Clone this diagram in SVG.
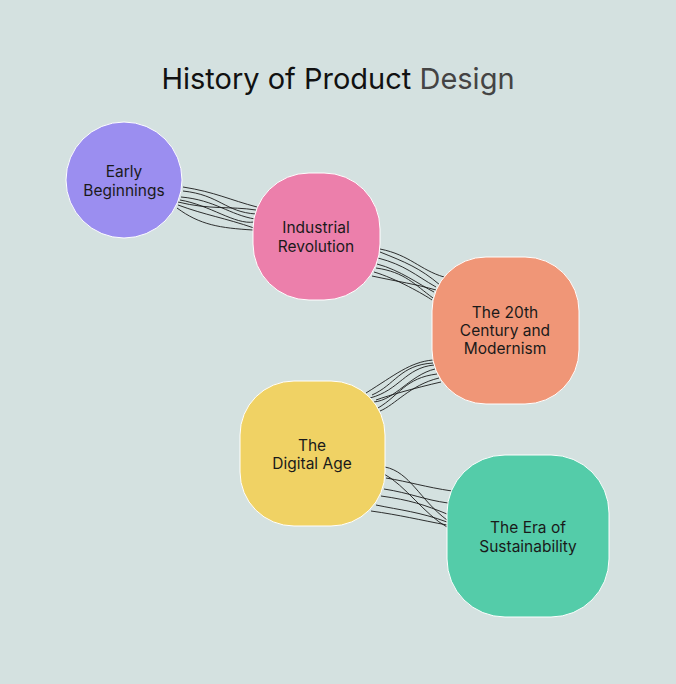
<svg xmlns="http://www.w3.org/2000/svg" width="676" height="684" viewBox="0 0 676 684">
<style>
.node{stroke:#ffffff;stroke-width:1}
.lbl{font-family:Inter,"Liberation Sans",sans-serif;font-size:15.5px;fill:#1a1a1a;text-anchor:middle}
.edge path{fill:none;stroke:#1a1a1a;stroke-width:0.9}
</style>
<rect width="676" height="684" fill="#d4e1e0"/>
<text x="338" y="89" font-family="Inter,'Liberation Sans',sans-serif" font-size="29" text-anchor="middle" fill="#111">History of Product <tspan fill="#444">Design</tspan></text>
<g id="connectors" class="edge">
<path d="M183,187 C215,192 230,200 257,207"/>
<path d="M183,191 C220,195 225,212 256,214"/>
<path d="M181,197 C215,200 230,215 255,219"/>
<path d="M180,200 C210,205 235,225 254,222"/>
<path d="M178,205 C205,215 225,218 254,228"/>
<path d="M177,208 C200,225 220,228 253,230"/>
<path d="M178,202 C210,210 230,206 256,210"/>
<path d="M380,249 C410,255 420,270 444,277"/>
<path d="M380,252 C405,262 420,268 440,285"/>
<path d="M378,258 C405,265 415,275 436,287"/>
<path d="M377,264 C400,270 420,285 434,292"/>
<path d="M376,268 C405,272 415,285 433,298"/>
<path d="M372,276 C400,282 415,284 436,290"/>
<path d="M374,272 C395,278 425,295 432,300"/>
<path d="M433,360 C410,362 395,375 366,393"/>
<path d="M434,365 C405,368 400,390 370,398"/>
<path d="M435,369 C410,375 395,400 374,402"/>
<path d="M437,374 C405,378 400,395 378,408"/>
<path d="M439,378 C410,385 395,405 380,411"/>
<path d="M433,363 C400,365 395,385 372,395"/>
<path d="M441,382 C415,388 390,395 376,400"/>
<path d="M385,467 C410,472 420,500 447,520"/>
<path d="M386,478 C410,482 425,487 452,491"/>
<path d="M384,489 C410,493 425,500 448,503"/>
<path d="M381,496 C410,500 425,505 447,514"/>
<path d="M376,505 C400,510 420,512 447,522"/>
<path d="M371,511 C400,515 420,520 447,525"/>
<path d="M384,474 C405,485 425,515 447,527"/>
</g>
<g id="n1">
<circle class="node" cx="124" cy="180" r="58" fill="#9b8ef0"/>
<text class="lbl" x="124" y="177">Early</text>
<text class="lbl" x="124" y="196">Beginnings</text>
</g>
<g id="n2">
<rect class="node" x="253" y="173" width="127" height="127" rx="56" fill="#ec7fab"/>
<text class="lbl" x="316" y="233">Industrial</text>
<text class="lbl" x="316" y="252">Revolution</text>
</g>
<g id="n3">
<rect class="node" x="432" y="257" width="147" height="147" rx="54" fill="#f09677"/>
<text class="lbl" x="505" y="318">The 20th</text>
<text class="lbl" x="505" y="336">Century and</text>
<text class="lbl" x="505" y="354">Modernism</text>
</g>
<g id="n4">
<rect class="node" x="240" y="381" width="145" height="145" rx="54" fill="#f0d264"/>
<text class="lbl" x="312" y="451">The</text>
<text class="lbl" x="312" y="469">Digital Age</text>
</g>
<g id="n5">
<rect class="node" x="447" y="455" width="162" height="162" rx="58" fill="#54cca9"/>
<text class="lbl" x="528" y="533">The Era of</text>
<text class="lbl" x="528" y="552">Sustainability</text>
</g>
</svg>
